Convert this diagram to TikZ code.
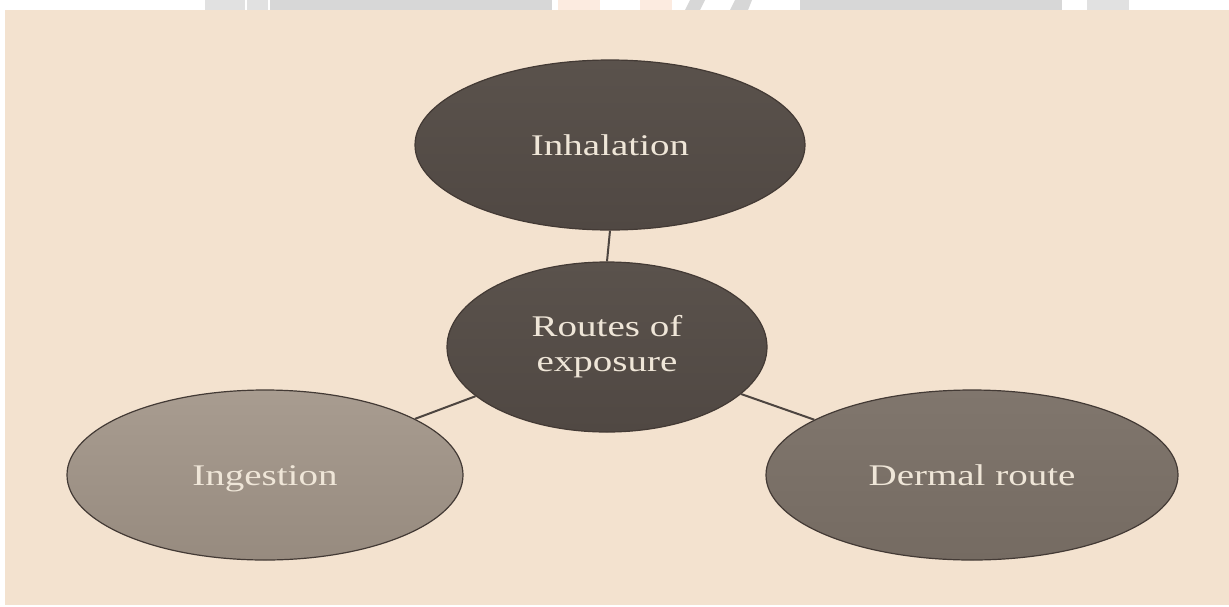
\documentclass[tikz,border=0pt]{standalone}
\usepackage{fontspec}
\newfontfamily\labelfont{Liberation Serif}[FakeStretch=1.3]
\usetikzlibrary{shapes.geometric}
\definecolor{bg}{HTML}{F3E2CF}
\definecolor{wmgray}{HTML}{D7D7D7}
\definecolor{wmlight}{HTML}{E1E1E1}
\definecolor{wmorange}{HTML}{FCEBE0}
\definecolor{darkfill}{HTML}{504843}
\definecolor{darktop}{HTML}{5A524C}
\definecolor{midfill}{HTML}{756B62}
\definecolor{midtop}{HTML}{80766D}
\definecolor{lightfill}{HTML}{978B7F}
\definecolor{lighttop}{HTML}{A89C90}
\definecolor{edge}{HTML}{433A35}
\definecolor{txt}{HTML}{EFE6D8}
\definecolor{conn}{HTML}{4D4540}
\tikzset{
  oval/.style={ellipse, draw=edge, line width=1.2pt, inner sep=0pt,
    text=txt, align=center,
    font=\labelfont\fontsize{30}{35}\selectfont},
  oneline/.style={text height=22pt, text depth=2pt},
  darkoval/.style={oval, top color=darktop, bottom color=darkfill},
  midoval/.style={oval, top color=midtop, bottom color=midfill},
  lightoval/.style={oval, top color=lighttop, bottom color=lightfill},
  link/.style={draw=conn, line width=2pt},
}
\begin{document}
\begin{tikzpicture}[x=1pt,y=-1pt]
\useasboundingbox (0,0) rectangle (1229,606);
\fill[white] (0,0) rectangle (1229,606);
% faint watermark in the top strip
\fill[wmlight] (205,0) rectangle (245,10);
\fill[wmlight] (247,0) rectangle (268,10);
\fill[wmgray] (270,0) rectangle (552,10);
\fill[wmorange] (558,0) rectangle (600,10);
\fill[wmorange] (640,0) rectangle (672,10);
\fill[wmgray] (690,0) -- (705,0) -- (700,10) -- (685,10) -- cycle;
\fill[wmgray] (735,0) -- (752,0) -- (748,10) -- (730,10) -- cycle;
\fill[wmgray] (800,0) rectangle (1062,10);
\fill[wmlight] (1087,0) rectangle (1129,10);
% beige panel
\fill[bg] (5,10) rectangle (1229,605);

\node[darkoval, oneline, minimum width=390pt, minimum height=170pt] (inh) at (610,145) {Inhalation};
\node[darkoval, minimum width=320pt, minimum height=170pt] (roe) at (607,347) {Routes of\\exposure};
\node[lightoval, oneline, minimum width=396pt, minimum height=170pt] (ing) at (265,475) {Ingestion};
\node[midoval, oneline, minimum width=412pt, minimum height=170pt] (der) at (972,475) {Dermal route};

\draw[link] (inh.south) -- (roe.north);
\draw[link] (roe) -- (ing);
\draw[link] (roe) -- (der);
\end{tikzpicture}
\end{document}
